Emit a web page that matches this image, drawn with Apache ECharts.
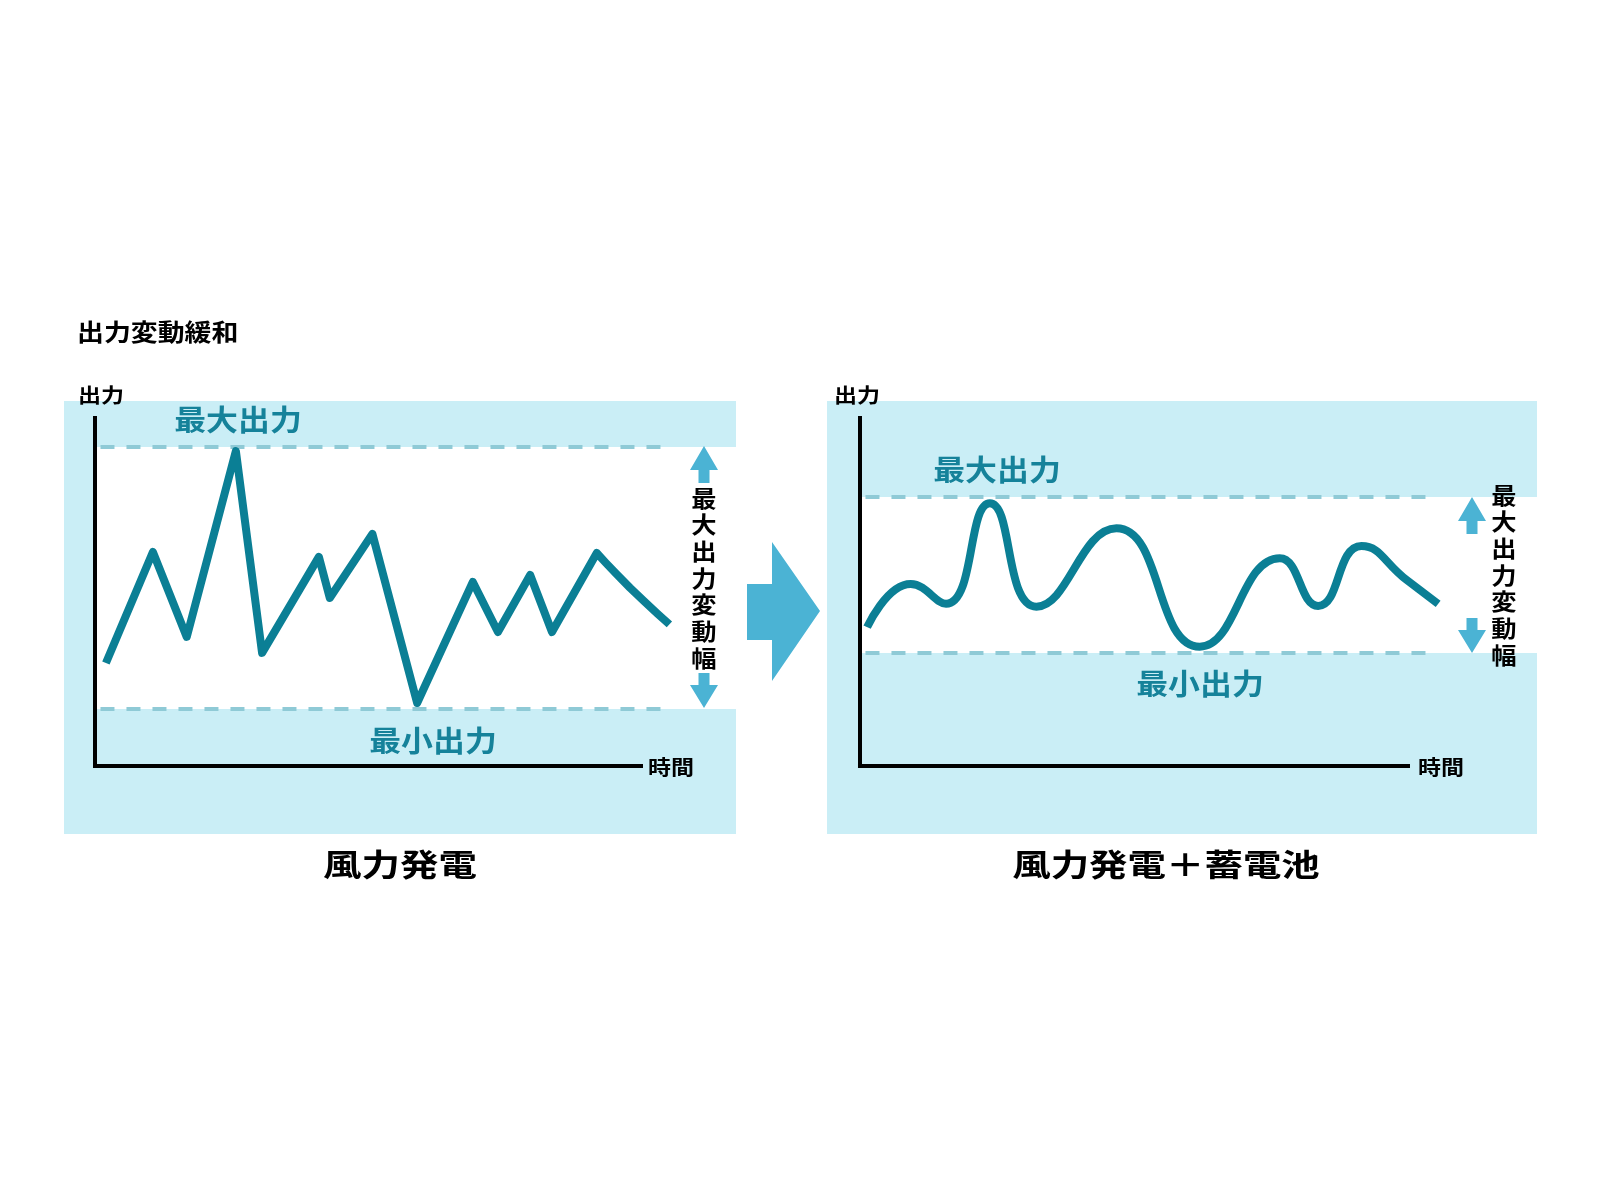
<!DOCTYPE html>
<html><head><meta charset="utf-8">
<script src="https://cdn.jsdelivr.net/npm/echarts@6/dist/echarts.min.js"></script>
<style>html,body{margin:0;padding:0;background:#fff}#c{width:1600px;height:1200px}</style>
</head><body><div id="c"></div>
<script>
// ---- texts ----
const titleText = '出力変動緩和';
const yAxisName = '出力';
const xAxisName = '時間';
const maxLabel = '最大出力';
const minLabel = '最小出力';
const rangeLabel = '最大出力変動幅';
const captions = ['風力発電', '風力発電＋蓄電池'];

// ---- left chart: wind power only (time 0-100 along the axis, output 0-100 up the axis) ----
const windTime   = [2.0, 10.6, 16.8, 25.8, 30.6, 41.0, 43.0, 50.8, 59.0, 69.2, 73.8, 79.7, 83.7, 91.9, 93.6, 95.6, 98.0, 100.6, 103.0, 105.2];
const windOutput = [29.6, 61.5, 37.1, 90.5, 32.5, 60.1, 48.3, 66.7, 18.1, 52.9, 38.5, 54.9, 38.5, 61.2, 58.3, 55.0, 51.2, 47.3, 43.8, 40.7];
const windMax = 91.7;
const windMin = 16.4;

// ---- right chart: wind power + battery (turning points of the smoothed output) ----
const battTime   = [1.3, 9.25, 15.7, 23.7, 32.2, 46.8, 62.0, 76.6, 83.6, 91.5, 99.8, 105.5];
const battOutput = [39.9, 52.3, 46.6, 75.5, 45.8, 68.3, 34.3, 59.7, 46.0, 63.2, 53.4, 46.6];
const battMax = 77.3;
const battMin = 32.5;

// axis frame of each panel (value units)
const axisTop = 100, axisEnd = 100;

const TEAL = '#0b7f95', LABEL = '#15829a', PANEL = '#caeef6', DASH = '#8fcad6', ARROW = '#4bb3d4';
const FONT = '"Noto Sans CJK JP", "Noto Sans CJK SC", sans-serif';

const chart = echarts.init(document.getElementById('c'));
function pairs(xs, ys) { return xs.map((x, i) => [x, ys[i]]); }
function seg(x0, y0, x1, y1) { return [{ coord: [x0, y0] }, { coord: [x1, y1] }]; }
function axis(idx, min, max) {
  return { type: 'value', gridIndex: idx, min: min, max: max,
    axisLine: { show: false }, axisTick: { show: false }, axisLabel: { show: false }, splitLine: { show: false } };
}
function holder(idx, y, z) {
  return { type: 'line', xAxisIndex: idx, yAxisIndex: idx, data: [[0, y]], symbol: 'none', silent: true,
    z: z, lineStyle: { opacity: 0 } };
}
function bandSeries(idx, maxV, minV, bandEnd) {
  return Object.assign(holder(idx, minV, 1), {
    markArea: { silent: true, itemStyle: { color: '#ffffff' }, label: { show: false },
      data: [[{ coord: [0, maxV] }, { coord: [bandEnd, minV] }]] } });
}
function dashSeries(idx, maxV, minV, dashEnd) {
  return Object.assign(holder(idx, minV, 2), {
    markLine: { silent: true, symbol: 'none', label: { show: false },
      lineStyle: { color: DASH, width: 4, type: [14, 12] },
      data: [seg(1.0, maxV, dashEnd, maxV), seg(1.0, minV, dashEnd, minV)] } });
}
function axisSeries(idx) {
  return Object.assign(holder(idx, 0, 6), {
    markLine: { silent: true, symbol: 'none', label: { show: false },
      lineStyle: { color: '#000', width: 4, type: 'solid', cap: 'square' },
      data: [seg(0, 0, axisEnd, 0), seg(0, 0, 0, axisTop)] } });
}

chart.setOption({
  animation: false,
  grid: [
    { left: 64, right: 864, top: 401, bottom: 366 },
    { left: 827, right: 63, top: 401, bottom: 366 }
  ],
  xAxis: [axis(0, -5.68, 117.4), axis(1, -6.02, 123.54)],
  yAxis: [axis(0, -19.54, 104.89), axis(1, -19.54, 104.89)],
  series: [
    bandSeries(0, windMax, windMin, 117.4),
    bandSeries(1, battMax, battMin, 123.54),
    dashSeries(0, windMax, windMin, 104.2),
    dashSeries(1, battMax, battMin, 104.0),
    { type: 'line', xAxisIndex: 0, yAxisIndex: 0, data: pairs(windTime, windOutput), symbol: 'none',
      z: 5, lineStyle: { color: TEAL, width: 8, join: 'round' } },
    { type: 'line', xAxisIndex: 1, yAxisIndex: 1, data: pairs(battTime, battOutput), symbol: 'none',
      smooth: 0.5, z: 5, lineStyle: { color: TEAL, width: 8, join: 'round' } },
    axisSeries(0),
    axisSeries(1)
  ]
});

function px(idx, x, y) { return chart.convertToPixel({ gridIndex: idx }, [x, y]); }
function txt(text, x, y, size, sx, color, align, extra) {
  return { type: 'text', x: x, y: y, scaleX: sx, z: 100, silent: true,
    style: Object.assign({ text: text, x: 0, y: 0, font: 'bold ' + size + 'px ' + FONT, fill: color,
      align: align || 'center', verticalAlign: 'middle', textAlign: align || 'center', textVerticalAlign: 'middle' }, extra || {}) };
}
function upArrow(cx, tip) {
  return { type: 'polygon', z: 50, silent: true, shape: { points: [
    [cx, tip], [cx + 14, tip + 24], [cx + 5.5, tip + 24], [cx + 5.5, tip + 37],
    [cx - 5.5, tip + 37], [cx - 5.5, tip + 24], [cx - 14, tip + 24]] }, style: { fill: ARROW } };
}
function downArrow(cx, tip) {
  return { type: 'polygon', z: 50, silent: true, shape: { points: [
    [cx, tip], [cx + 14, tip - 23], [cx + 5.5, tip - 23], [cx + 5.5, tip - 35],
    [cx - 5.5, tip - 35], [cx - 5.5, tip - 23], [cx - 14, tip - 23]] }, style: { fill: ARROW } };
}

const lMax = px(0, 0, windMax)[1], lMin = px(0, 0, windMin)[1];
const rMax = px(1, 0, battMax)[1], rMin = px(1, 0, battMin)[1];
const vert = rangeLabel.split('').join('\n');

chart.setOption({
  graphic: [
    { type: 'rect', z: -10, silent: true, shape: { x: 64, y: 401, width: 672, height: 433 }, style: { fill: PANEL } },
    { type: 'rect', z: -10, silent: true, shape: { x: 827, y: 401, width: 710, height: 433 }, style: { fill: PANEL } },
    { type: 'polygon', z: 50, silent: true, shape: { points: [[747, 584], [772, 584], [772, 542], [820, 611], [772, 681], [772, 640], [747, 640]] }, style: { fill: ARROW } },
    upArrow(704, lMax - 1), downArrow(704, lMin - 1),
    upArrow(1472, rMax), downArrow(1472, rMin),
    txt(titleText, 77, 332, 24, 1.12, '#000', 'left'),
    txt(yAxisName, 101, 395, 20, 1.15, '#000'),
    txt(yAxisName, 857, 395, 20, 1.15, '#000'),
    txt(xAxisName, 671, 767, 20, 1.15, '#000'),
    txt(xAxisName, 1441, 767, 20, 1.15, '#000'),
    txt(maxLabel, 238, 420, 29, 1.1, LABEL),
    txt(minLabel, 433, 741, 29, 1.1, LABEL),
    txt(maxLabel, 997, 470, 29, 1.1, LABEL),
    txt(minLabel, 1200, 684, 29, 1.1, LABEL),
    txt(vert, 704, 578, 23, 1.1, '#000', 'center', { lineHeight: 26.7 }),
    txt(vert, 1504, 575, 23, 1.1, '#000', 'center', { lineHeight: 26.7 }),
    txt(captions[0], 400, 864, 31, 1.24, '#000'),
    txt(captions[1], 1166, 864, 31, 1.24, '#000')
  ]
});
</script>
</body></html>
